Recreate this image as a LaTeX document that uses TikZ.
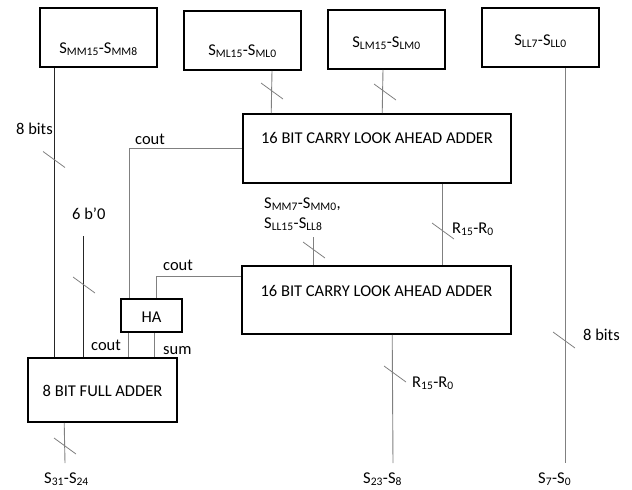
\documentclass[tikz,border=0pt]{standalone}
\usepackage{fontspec}
\setmainfont{Carlito}
\begin{document}
\begin{tikzpicture}[x=1pt,y=-1pt,
  every node/.style={font=\fontsize{16.5}{19}\selectfont, inner sep=0pt},
  box/.style={draw=black, line width=1.6pt, minimum width=117pt, minimum height=59pt},
  conn/.style={draw=black!50, line width=0.9pt},
  dconn/.style={draw=black!85, line width=0.9pt},
  slash/.style={draw=black!50, line width=0.8pt}
]
\useasboundingbox (0,0) rectangle (632,490);
% boxes
\node[box, text height=31pt, text depth=0pt] (smm) at (98.5,37.5) {S\textsubscript{MM15}-S\textsubscript{MM8}};
\node[box, text height=29pt, text depth=0pt] (sml) at (242.5,40.5) {S\textsubscript{ML15}-S\textsubscript{ML0}};
\node[box, text height=15pt, text depth=0pt] (slm) at (386.5,39.5) {S\textsubscript{LM15}-S\textsubscript{LM0}};
\node[box, text height=15pt, text depth=0pt] (sll) at (540.5,37.5) {S\textsubscript{LL7}-S\textsubscript{LL0}};
\node[box, minimum width=268pt, minimum height=69pt, text height=11pt, text depth=22pt] (cla1) at (377,148.5) {16 BIT CARRY LOOK AHEAD ADDER};
\node[box, minimum width=269pt, minimum height=68pt, text height=11pt, text depth=19pt] (cla2) at (376.5,300) {16 BIT CARRY LOOK AHEAD ADDER};
\node[box, minimum width=61pt, minimum height=33pt, text height=13pt, text depth=0pt] (ha) at (151.5,315.5) {HA};
\node[box, minimum width=149pt, minimum height=64pt, text height=12pt, text depth=0pt] (fa) at (102.5,390) {8 BIT FULL ADDER};
% free ends
\coordinate (e1) at (65,463);
\coordinate (e2) at (393,463);
\coordinate (e3) at (565,463);
\coordinate (i1) at (313,237);
\coordinate (i2) at (83,236);
% connectors
\draw[dconn] ([xshift=15pt]smm.south west) -- ([xshift=27pt]fa.north west);
\draw[conn] ([xshift=29.5pt]sml.south) -- ([xshift=29pt]cla1.north west);
\draw[conn] ([xshift=-3.5pt]slm.south) -- ([xshift=140pt]cla1.north west);
\draw[conn] ([xshift=24.5pt]sll.south) -- (e3);
\draw[conn] ([xshift=200pt]cla1.south west) -- ([xshift=201pt]cla2.north west);
\draw[conn] ([xshift=151pt]cla2.south west) -- (e2);
\draw[conn] ([xshift=37pt]fa.south west) -- (e1);
\draw[conn] (i1) -- (i1 |- cla2.north);
\draw[dconn] (i2) -- (i2 |- fa.north);
\draw[conn] (cla1.west) -| ([xshift=9pt]ha.north west);
\draw[conn] ([yshift=-11pt]cla2.north west) -| ([xshift=36pt]ha.north west);
\draw[conn] ([xshift=8pt]ha.south west) -- ([xshift=101pt]fa.north west);
\draw[conn] ([xshift=34pt]ha.south west) -- ([xshift=127pt]fa.north west);
% bus slashes
\foreach \px/\py in {54/159.5, 272/91, 385/92, 564/340, 84/285, 443/231, 314/250, 395/374, 65/446}
  \draw[slash] (\px,\py) +(-11,-8) -- +(11,8);
% labels
\node[anchor=base west] (l8a) at (16,134) {8 bits};
\node[anchor=base west] (lc1) at (135,144) {cout};
\node[anchor=base west] (l6) at (72,219) {6 b’0};
\node[anchor=base west] (lc2) at (163,270) {cout};
\node[anchor=base west] (lsa) at (264,208) {S\textsubscript{MM7}-S\textsubscript{MM0},};
\node[anchor=base west] (lsb) at (264,228) {S\textsubscript{LL15}-S\textsubscript{LL8}};
\node[anchor=base west] (lr1) at (452,233) {R\textsubscript{15}-R\textsubscript{0}};
\node[anchor=base west] (lc3) at (91,350) {cout};
\node[anchor=base west] (lsum) at (163,354) {sum};
\node[anchor=base west] (l8b) at (583,340) {8 bits};
\node[anchor=base west] (lr2) at (412,387) {R\textsubscript{15}-R\textsubscript{0}};
\node[anchor=base west] (o1) at (44,483) {S\textsubscript{31}-S\textsubscript{24}};
\node[anchor=base west] (o2) at (363,483) {S\textsubscript{23}-S\textsubscript{8}};
\node[anchor=base west] (o3) at (538,483) {S\textsubscript{7}-S\textsubscript{0}};
\end{tikzpicture}
\end{document}
